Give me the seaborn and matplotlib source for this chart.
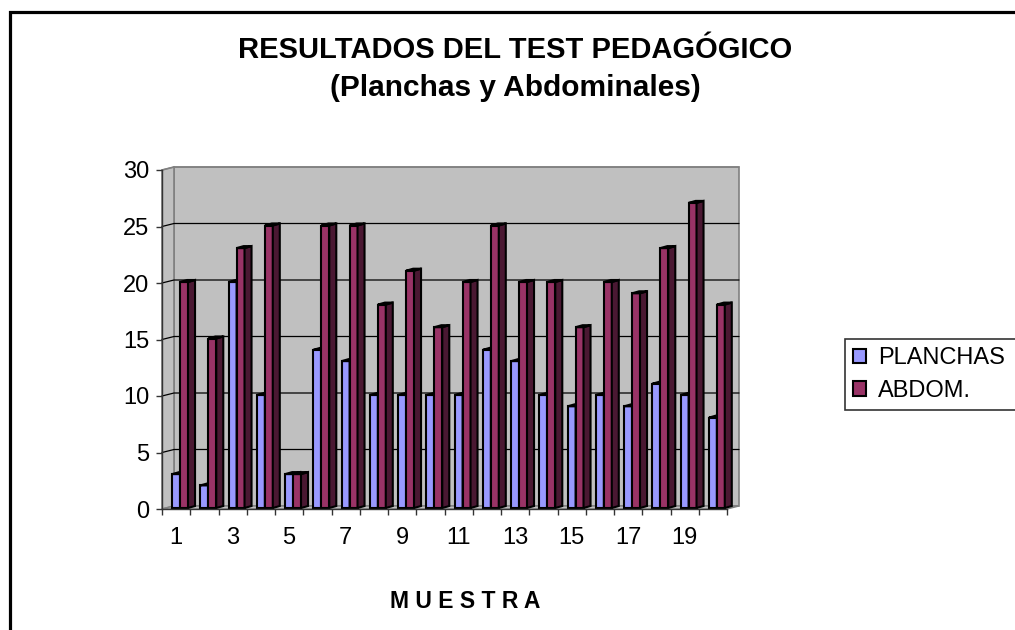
import numpy as np
import pandas as pd
import seaborn as sns
import matplotlib.pyplot as plt
from matplotlib.patches import Rectangle, Polygon, Patch

# DATOS
muestra = [str(i) for i in range(1, 21)]
planchas = [3, 2, 20, 10, 3, 14, 13, 10, 10, 10, 10, 14, 13, 10, 9, 10, 9, 11, 10, 8]
abdom = [20, 15, 23, 25, 3, 25, 25, 18, 21, 16, 20, 25, 20, 20, 16, 20, 19, 23, 27, 18]
series = ["PLANCHAS", "ABDOM."]
colores = ["#9999FF", "#993366"]
lados = ["#5C5CA8", "#4A1832"]
techos = ["#7777CC", "#6E2449"]
y_ticks = [0, 5, 10, 15, 20, 25, 30]
x_labels = [str(i) for i in range(1, 20, 2)]

df = pd.DataFrame({
    "muestra": muestra * 2,
    "serie": ["PLANCHAS"] * 20 + ["ABDOM."] * 20,
    "valor": planchas + abdom,
})

sns.set_style("white")
plt.rcParams["font.family"] = ["Liberation Sans", "DejaVu Sans"]
plt.rcParams["text.color"] = "black"
plt.rcParams["xtick.color"] = "black"
plt.rcParams["ytick.color"] = "black"

W, H = 1015, 630
fig = plt.figure(figsize=(W / 100, H / 100), dpi=100)
# area frontal del grafico (pixeles)
L, R, T, B = 162, 727, 170, 509
ax = fig.add_axes([L / W, 1 - B / H, (R - L) / W, (B - T) / H])
ax.set_facecolor("none")

sns.barplot(data=df, x="muestra", y="valor", hue="serie", hue_order=series,
            palette=colores, width=0.56, gap=0, saturation=1, legend=False,
            edgecolor="black", linewidth=1.5, ax=ax)

ax.set_xlim(-0.5, 19.5)
ax.set_ylim(0, 30)

# conversion pixeles -> datos para el efecto 3D
px_x = (R - L) / 20.0
px_y = (B - T) / 30.0
DX, DY = 12 / px_x, 3 / px_y      # pared del fondo
BX, BY = 4 / px_x, 1 / px_y       # cara frontal de barras
PX, PY = 7 / px_x, 2 / px_y       # profundidad de barras

gris = "#C0C0C0"
borde = "#808080"
ax.add_patch(Rectangle((-0.5 + DX, DY), 20, 30, facecolor=gris, edgecolor=borde,
                       lw=1.2, zorder=0.1, clip_on=False))
ax.add_patch(Polygon([(-0.5, 0), (-0.5 + DX, DY), (-0.5 + DX, 30 + DY), (-0.5, 30)],
                     closed=True, facecolor=gris, edgecolor=borde, lw=1.2,
                     zorder=0.1, clip_on=False))
ax.add_patch(Polygon([(-0.5, 0), (19.5, 0), (19.5 + DX, DY), (-0.5 + DX, DY)],
                     closed=True, facecolor=gris, edgecolor=borde, lw=1.0,
                     zorder=0.1, clip_on=False))
for v in y_ticks[1:]:
    ax.plot([-0.5, -0.5 + DX, 19.5 + DX], [v, v + DY, v + DY],
            color="black" if v < 30 else borde, lw=0.9, zorder=0.2, clip_on=False)

# barras con caras laterales y superiores
for k, cont in enumerate(ax.containers):
    for p in cont:
        p.set_x(p.get_x() + BX)
        p.set_y(BY)
        p.set_zorder(2 + k)
        x0 = p.get_x()
        x1 = x0 + p.get_width()
        y0 = p.get_y()
        y1 = y0 + p.get_height()
        ax.add_patch(Polygon([(x1, y0), (x1 + PX, y0 + PY), (x1 + PX, y1 + PY), (x1, y1)],
                             closed=True, facecolor=lados[k], edgecolor="black",
                             lw=1.5, zorder=2 + k, clip_on=False))
        ax.add_patch(Polygon([(x0, y1), (x1, y1), (x1 + PX, y1 + PY), (x0 + PX, y1 + PY)],
                             closed=True, facecolor=techos[k], edgecolor="black",
                             lw=1.5, zorder=2 + k, clip_on=False))

# ejes
for s in ["top", "right"]:
    ax.spines[s].set_visible(False)
for s in ["left", "bottom"]:
    ax.spines[s].set_color("#333333")
    ax.spines[s].set_linewidth(1.0)
    ax.spines[s].set_zorder(5)

ax.set_yticks(y_ticks)
ax.set_yticklabels([str(v) for v in y_ticks], fontsize=17)
ax.tick_params(axis="y", direction="out", length=4, width=1, color="#333333", pad=5, left=True)

ax.set_xticks(np.arange(0, 20, 2))
ax.set_xticklabels(x_labels, fontsize=17)
ax.set_xticks(np.arange(-0.5, 20, 1), minor=True)
ax.tick_params(axis="x", which="major", length=0, pad=13)
ax.tick_params(axis="x", which="minor", direction="out", length=4, width=1,
               color="#333333", bottom=True)
ax.set_xlabel("")
ax.set_ylabel("")

# titulo
fig.text(515 / W, 1 - 58 / H, "RESULTADOS DEL TEST PEDAGÓGICO", ha="center",
         va="baseline", fontsize=21, fontweight="bold")
fig.text(515 / W, 1 - 96 / H, "(Planchas y Abdominales)", ha="center",
         va="baseline", fontsize=21.5, fontweight="bold")
fig.text(465 / W, 1 - 608 / H, "M U E S T R A", ha="center", va="baseline",
         fontsize=16.5, fontweight="bold")

# leyenda (se sale por la derecha como en el original)
handles = [Patch(facecolor=c, edgecolor="black", lw=1.5) for c in colores]
leg = fig.legend(handles, series, loc="upper left", mode="expand",
                 bbox_to_anchor=(845 / W, 1 - 339 / H, 190 / W, 0), fontsize=17,
                 frameon=True, fancybox=False, borderpad=0.35,
                 handlelength=0.55, handleheight=0.55, handletextpad=0.5,
                 labelspacing=0.45, borderaxespad=0)
leg.get_frame().set_edgecolor("black")
leg.get_frame().set_linewidth(1.2)

# marco exterior
fig.add_artist(Rectangle((10 / W, -0.1), 1.2, 1.1 - 12 / H, transform=fig.transFigure,
                         fill=False, edgecolor="black", lw=2.3))

fig.savefig("out.png", dpi=100)
